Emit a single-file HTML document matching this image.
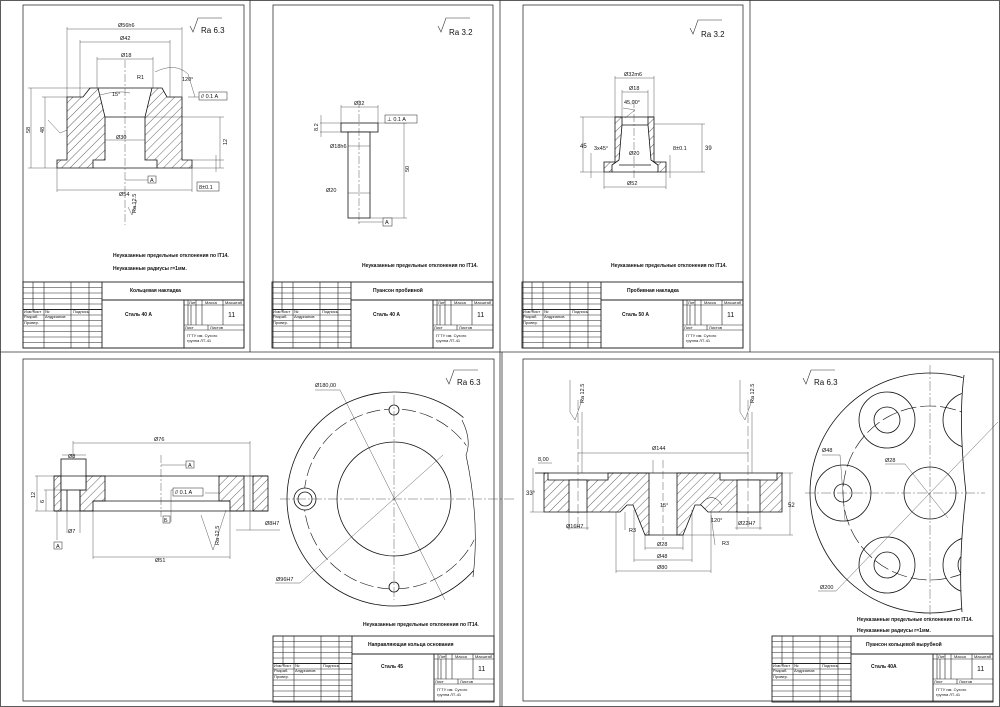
<!DOCTYPE html>
<html><head><meta charset="utf-8"><style>
html,body{margin:0;padding:0;background:#fff}
svg{display:block}
text{font-family:"Liberation Sans",sans-serif;fill:#111}
.t{font-size:4px}
.n{font-size:5px;font-weight:bold}
.d{font-size:5.5px}
</style></head><body>
<svg width="1000" height="707" viewBox="0 0 1000 707" xmlns="http://www.w3.org/2000/svg">
<defs>
<pattern id="h" patternUnits="userSpaceOnUse" width="6" height="6" patternTransform="rotate(45)">
<rect width="6" height="6" fill="#fff"/><line x1="0" y1="0" x2="0" y2="6" stroke="#222" stroke-width="0.7"/>
</pattern>
<g id="tb" fill="none" stroke="#222" stroke-width="0.6">
<rect x="0" y="0" width="221" height="66" stroke-width="0.9"/>
<line x1="79" y1="0" x2="79" y2="66" stroke-width="0.9"/>
<line x1="79" y1="18" x2="221" y2="18" stroke-width="0.9"/>
<line x1="10" y1="0" x2="10" y2="30"/><line x1="21" y1="0" x2="21" y2="66"/>
<line x1="48" y1="0" x2="48" y2="66"/><line x1="66" y1="0" x2="66" y2="66"/>
<line x1="0" y1="5.5" x2="79" y2="5.5"/><line x1="0" y1="11" x2="79" y2="11"/>
<line x1="0" y1="16.5" x2="79" y2="16.5"/><line x1="0" y1="22" x2="79" y2="22"/>
<line x1="0" y1="27.5" x2="79" y2="27.5" stroke-width="0.9"/><line x1="0" y1="33" x2="79" y2="33"/>
<line x1="0" y1="38.5" x2="79" y2="38.5"/><line x1="0" y1="44" x2="79" y2="44"/>
<line x1="0" y1="49.5" x2="79" y2="49.5"/><line x1="0" y1="55" x2="79" y2="55"/>
<line x1="0" y1="60.5" x2="79" y2="60.5"/>
<line x1="161" y1="18" x2="161" y2="66" stroke-width="0.9"/>
<line x1="161" y1="23" x2="221" y2="23"/>
<line x1="161" y1="43" x2="221" y2="43"/><line x1="161" y1="48" x2="221" y2="48"/>
<line x1="165" y1="18" x2="165" y2="43"/><line x1="168" y1="23" x2="168" y2="43"/>
<line x1="173" y1="18" x2="173" y2="43"/><line x1="179" y1="18" x2="179" y2="43"/>
<line x1="200" y1="18" x2="200" y2="43"/><line x1="185" y1="43" x2="185" y2="48"/>
</g>
<g id="tbt">
<text class="t" x="1" y="31">Изм Лист</text><text class="t" x="22" y="31">№</text><text class="t" x="50" y="31">Подпись</text>
<text class="t" x="1" y="36">Разраб.</text><text class="t" x="22" y="36">Андрианов</text><text class="t" x="1" y="42">Провер.</text>
<text class="t" x="166" y="22">Лит</text><text class="t" x="182" y="22">Масса</text><text class="t" x="202" y="22">Масштаб</text>
<text class="t" x="162" y="47">Лист</text><text class="t" x="187" y="47">Листов</text>
<text class="t" x="164" y="55">ГГТУ им. Сухого</text><text class="t" x="164" y="60">группа ЛТ-41</text>
<text x="205" y="35" style="font-size:7px">11</text>
</g>
<g id="ra"><polyline points="0,8 3,14 8,0 32,0" fill="none" stroke="#333" stroke-width="0.6"/></g>
</defs>

<g fill="none" stroke="#333" stroke-width="0.8">
<rect x="0.5" y="0.5" width="999" height="706"/>
<line x1="250" y1="0" x2="250" y2="352"/><line x1="500" y1="0" x2="500" y2="352"/>
<line x1="750" y1="0" x2="750" y2="352"/>
<line x1="0" y1="352" x2="1000" y2="352"/>
<line x1="500" y1="352" x2="500" y2="707"/><line x1="502" y1="352" x2="502" y2="707"/>
<rect x="23" y="5" width="221" height="343"/>
<rect x="273" y="5" width="220" height="343"/>
<rect x="523" y="5" width="220" height="343"/>
<rect x="23" y="359" width="471" height="342"/>
<rect x="523" y="359" width="470" height="342"/>
</g>

<use href="#tb" x="23" y="282"/><use href="#tbt" x="23" y="282"/>
<text class="n" x="130" y="292">Кольцевая накладка</text><text class="n" x="125" y="316">Сталь 40 А</text>
<use href="#tb" x="272" y="282"/><use href="#tbt" x="272" y="282"/>
<text class="n" x="373" y="292">Пуансон пробивной</text><text class="n" x="373" y="316">Сталь 40 А</text>
<use href="#tb" x="522" y="282"/><use href="#tbt" x="522" y="282"/>
<text class="n" x="627" y="292">Пробивная накладка</text><text class="n" x="622" y="316">Сталь 50 А</text>
<use href="#tb" x="273" y="636"/><use href="#tbt" x="273" y="636"/>
<text class="n" x="368" y="646">Направляющая кольца основания</text><text class="n" x="381" y="668">Сталь 45</text>
<use href="#tb" x="772" y="636"/><use href="#tbt" x="772" y="636"/>
<text class="n" x="866" y="646">Пуансон кольцевой вырубной</text><text class="n" x="871" y="668">Сталь 40А</text>

<text class="n" x="113" y="257">Неуказанные предельные отклонения по IT14.</text>
<text class="n" x="113" y="270">Неуказанные радиусы r=1мм.</text>
<text class="n" x="362" y="267">Неуказанные предельные отклонения по IT14.</text>
<text class="n" x="611" y="267">Неуказанные предельные отклонения по IT14.</text>
<text class="n" x="363" y="626">Неуказанные предельные отклонения по IT14.</text>
<text class="n" x="857" y="621">Неуказанные предельные отклонения по IT14.</text>
<text class="n" x="857" y="632">Неуказанные радиусы r=1мм.</text>

<use href="#ra" x="190" y="18"/><text x="201" y="33" style="font-size:8px">Ra 6.3</text>
<use href="#ra" x="438" y="18"/><text x="449" y="35" style="font-size:8px">Ra 3.2</text>
<use href="#ra" x="690" y="20"/><text x="701" y="37" style="font-size:8px">Ra 3.2</text>
<use href="#ra" x="446" y="370"/><text x="457" y="385" style="font-size:8px">Ra 6.3</text>
<use href="#ra" x="803" y="370"/><text x="814" y="385" style="font-size:8px">Ra 6.3</text>

<!-- SHEET 1 -->
<g stroke="#111" stroke-width="0.8">
<polygon fill="url(#h)" points="67,97 83,97 90,88 98,88 105,117 105,160 93,160 93,168 57,168 57,160 67,160"/>
<polygon fill="url(#h)" points="182,97 167,97 162,88 152,88 145,117 145,160 157,160 157,168 192,168 192,160 182,160"/>
<line x1="98" y1="88" x2="152" y2="88"/><line x1="105" y1="117" x2="145" y2="117"/><line x1="93" y1="168" x2="157" y2="168"/>
</g>
<g stroke="#333" stroke-width="0.4" fill="none">
<line x1="125" y1="60" x2="125" y2="225" stroke-dasharray="8,2,2,2"/>
<line x1="67" y1="29" x2="182" y2="29"/><line x1="67" y1="27" x2="67" y2="97"/><line x1="182" y1="27" x2="182" y2="97"/>
<line x1="80" y1="42" x2="170" y2="42"/><line x1="80" y1="40" x2="80" y2="97"/><line x1="170" y1="40" x2="170" y2="97"/>
<line x1="97" y1="59" x2="153" y2="59"/><line x1="97" y1="57" x2="97" y2="88"/><line x1="153" y1="57" x2="153" y2="88"/>
<line x1="105" y1="140" x2="145" y2="140"/>
<line x1="57" y1="190" x2="192" y2="190"/><line x1="57" y1="168" x2="57" y2="192"/><line x1="192" y1="168" x2="192" y2="192"/>
<line x1="31" y1="88" x2="31" y2="168"/><line x1="28" y1="88" x2="90" y2="88"/><line x1="28" y1="168" x2="57" y2="168"/>
<line x1="45" y1="97" x2="45" y2="168"/><line x1="42" y1="97" x2="67" y2="97"/>
<line x1="220" y1="117" x2="220" y2="168"/><line x1="145" y1="117" x2="224" y2="117"/><line x1="192" y1="168" x2="224" y2="168"/>
<line x1="192" y1="160" x2="224" y2="160"/><line x1="216" y1="155" x2="216" y2="172"/>
<path d="M155,72 Q175,62 188,74 L195,97"/><line x1="188" y1="97" x2="200" y2="97"/>
<path d="M100,95 Q118,90 130,93"/>
<line x1="125" y1="180" x2="148" y2="180"/>
<polyline points="48,120 60,133 67,130"/>
<polyline points="128,207 132,215 137,200"/>
</g>
<text class="d" x="118" y="27">Ø56h6</text><text class="d" x="120" y="40">Ø42</text><text class="d" x="121" y="57">Ø18</text>
<text class="d" x="116" y="139">Ø30</text><text class="d" x="119" y="196">Ø54</text><text class="d" x="182" y="81">120°</text>
<text class="d" x="112" y="96">15°</text><text class="d" x="137" y="79">R1</text>
<text class="d" transform="translate(30,133) rotate(-90)">58</text><text class="d" transform="translate(44,133) rotate(-90)">48</text>
<text class="d" transform="translate(227,145) rotate(-90)">12</text>
<text class="d" transform="translate(136,213) rotate(-90)">Ra 12.5</text>
<g fill="#fff" stroke="#222" stroke-width="0.5"><rect x="199" y="92" width="28" height="8"/><rect x="148" y="176" width="8" height="7"/><rect x="197" y="182" width="22" height="9"/></g>
<text class="d" x="201" y="98">// 0.1  A</text><text class="d" x="150" y="182">A</text><text class="d" x="199" y="189">8±0.1</text>

<!-- SHEET 2 -->
<g stroke="#111" stroke-width="0.8" fill="#fff">
<rect x="341" y="123" width="37" height="9"/><rect x="348" y="132" width="22" height="86"/>
</g>
<g stroke="#333" stroke-width="0.4" fill="none">
<line x1="359" y1="100" x2="359" y2="225" stroke-dasharray="8,2,2,2"/>
<line x1="341" y1="107" x2="378" y2="107"/><line x1="341" y1="105" x2="341" y2="123"/><line x1="378" y1="105" x2="378" y2="123"/>
<line x1="404" y1="123" x2="404" y2="218"/><line x1="378" y1="123" x2="407" y2="123"/><line x1="370" y1="218" x2="407" y2="218"/>
<line x1="320" y1="123" x2="341" y2="123"/><line x1="320" y1="132" x2="348" y2="132"/><line x1="321" y1="115" x2="321" y2="137"/>
<line x1="348" y1="146" x2="370" y2="146"/><line x1="348" y1="193" x2="370" y2="193"/>
<line x1="358" y1="222" x2="383" y2="222"/>
</g>
<g fill="#fff" stroke="#222" stroke-width="0.5"><rect x="385" y="115" width="32" height="8"/><rect x="383" y="218" width="9" height="8"/></g>
<text class="d" x="387" y="121">⊥ 0.1  A</text><text class="d" x="385" y="224">A</text>
<text class="d" x="354" y="105">Ø32</text><text class="d" x="330" y="148">Ø18h6</text><text class="d" x="326" y="192">Ø20</text>
<text class="d" transform="translate(409,172) rotate(-90)">50</text><text class="d" transform="translate(318,131) rotate(-90)">8.2</text>

<!-- SHEET 3 -->
<g stroke="#111" stroke-width="0.8">
<polygon fill="url(#h)" points="615,117 622,117 622,125 619,160 612,165 612,172 604,172 604,162 615,162"/>
<polygon fill="url(#h)" points="654,117 648,117 648,125 651,160 658,165 658,172 666,172 666,162 654,162"/>
<line x1="622" y1="125" x2="648" y2="125"/><line x1="619" y1="165" x2="651" y2="165"/><line x1="612" y1="172" x2="658" y2="172"/>
<line x1="615" y1="117" x2="654" y2="117"/>
</g>
<g stroke="#333" stroke-width="0.4" fill="none">
<line x1="634" y1="100" x2="634" y2="180" stroke-dasharray="8,2,2,2"/>
<line x1="615" y1="78" x2="654" y2="78"/><line x1="615" y1="76" x2="615" y2="117"/><line x1="654" y1="76" x2="654" y2="117"/>
<line x1="622" y1="92" x2="648" y2="92"/><line x1="622" y1="90" x2="622" y2="117"/><line x1="648" y1="90" x2="648" y2="117"/>
<line x1="583" y1="117" x2="583" y2="172"/><line x1="580" y1="117" x2="615" y2="117"/><line x1="580" y1="172" x2="604" y2="172"/>
<line x1="702" y1="124" x2="702" y2="172"/><line x1="654" y1="124" x2="705" y2="124"/><line x1="666" y1="172" x2="705" y2="172"/>
<line x1="604" y1="187" x2="666" y2="187"/><line x1="604" y1="172" x2="604" y2="189"/><line x1="666" y1="172" x2="666" y2="189"/>
<line x1="591" y1="153" x2="591" y2="178"/><line x1="670" y1="155" x2="670" y2="178"/>
<path d="M623,108 L635,110 L625,118"/>
</g>
<text class="d" x="624" y="76">Ø32m6</text><text class="d" x="629" y="90">Ø18</text><text class="d" x="624" y="104">45,00°</text>
<text class="d" x="629" y="155">Ø20</text><text class="d" x="627" y="185">Ø52</text>
<text x="580" y="148" style="font-size:6px">45</text><text x="705" y="150" style="font-size:6px">39</text>
<text class="d" x="594" y="150">3x45°</text><text class="d" x="673" y="150">8±0.1</text>

<!-- SHEET 4 -->
<g stroke="#111" stroke-width="0.8">
<rect x="54" y="476" width="7" height="35" fill="url(#h)"/>
<polygon fill="url(#h)" points="80,490 86,490 86,476 105,476 105,501 93,501 93,511 80,511"/>
<polygon fill="url(#h)" points="219,476 244,476 244,511 230,511 230,501 219,501"/>
<rect x="253" y="476" width="15" height="35" fill="url(#h)"/>
<rect x="61" y="459" width="25" height="31" fill="#fff"/>
<line x1="54" y1="476" x2="268" y2="476"/><line x1="54" y1="511" x2="268" y2="511"/>
<line x1="67" y1="490" x2="67" y2="511"/><line x1="80" y1="490" x2="80" y2="511"/>
<line x1="93" y1="501" x2="230" y2="501"/>
</g>
<g stroke="#333" stroke-width="0.4" fill="none">
<line x1="161" y1="455" x2="161" y2="517" stroke-dasharray="8,2,2,2"/>
<line x1="73" y1="443" x2="250" y2="443"/><line x1="73" y1="441" x2="73" y2="459"/><line x1="250" y1="441" x2="250" y2="530"/>
<line x1="93" y1="557" x2="230" y2="557"/><line x1="93" y1="511" x2="93" y2="559"/><line x1="230" y1="511" x2="230" y2="559"/>
<line x1="35" y1="476" x2="54" y2="476"/><line x1="35" y1="511" x2="54" y2="511"/><line x1="37" y1="476" x2="37" y2="511"/>
<line x1="44" y1="490" x2="61" y2="490"/><line x1="46" y1="490" x2="46" y2="511"/>
<line x1="62" y1="455" x2="86" y2="455"/><line x1="67" y1="511" x2="67" y2="533"/><line x1="80" y1="511" x2="80" y2="533"/>
<line x1="57" y1="511" x2="57" y2="540"/>
<line x1="161" y1="465" x2="186" y2="465"/>
<line x1="171" y1="490" x2="171" y2="522"/><line x1="171" y1="490" x2="190" y2="490"/>
<line x1="205" y1="493" x2="219" y2="493"/>
<line x1="236" y1="530" x2="280" y2="530"/>
<polyline points="201,515 213,550 226,510"/>
</g>
<g fill="#fff" stroke="#222" stroke-width="0.5"><rect x="186" y="461" width="8" height="7"/><rect x="173" y="488" width="30" height="8"/><rect x="54" y="542" width="8" height="7"/><rect x="163" y="516" width="7" height="7"/></g>
<text class="d" x="188" y="467">A</text><text class="d" x="175" y="494">// 0.1  A</text><text class="d" x="56" y="548">A</text><text class="d" x="164" y="522">Б</text>
<text class="d" x="154" y="441">Ø76</text><text class="d" x="68" y="458">Ø8</text><text class="d" x="68" y="533">Ø7</text>
<text class="d" x="155" y="562">Ø51</text><text class="d" x="265" y="525">Ø8H7</text>
<text class="d" transform="translate(35,498) rotate(-90)">12</text><text class="d" transform="translate(44,503) rotate(-90)">6</text>
<text class="d" transform="translate(219,545) rotate(-90)">Ra 12.5</text>
<defs><clipPath id="c4"><path d="M280,350 L462,350 Q468,410 462,422 Q478,500 473,577 L473,707 L280,707 Z"/></clipPath></defs>
<g clip-path="url(#c4)" fill="none" stroke="#111" stroke-width="0.8">
<circle cx="394" cy="499" r="107"/>
<circle cx="394" cy="499" r="90" stroke-dasharray="14,4" stroke-width="0.6"/>
</g>
<g fill="none" stroke="#111" stroke-width="0.8">
<path d="M462,420 Q472,440 466,455 Q480,520 473,577" stroke-width="0.6"/>
<circle cx="394" cy="499" r="57"/>
<circle cx="394" cy="410" r="5" fill="#fff"/><circle cx="394" cy="587" r="5" fill="#fff"/>
<circle cx="305" cy="499" r="11" fill="#fff"/><circle cx="305" cy="499" r="7"/>
</g>
<g stroke="#333" stroke-width="0.4">
<line x1="280" y1="499" x2="515" y2="499" stroke-dasharray="10,2,2,2"/>
<line x1="394" y1="395" x2="394" y2="600" stroke-dasharray="10,2,2,2"/>
<line x1="315" y1="390" x2="340" y2="390"/><line x1="340" y1="390" x2="445" y2="600"/>
<line x1="275" y1="583" x2="300" y2="583"/><line x1="300" y1="583" x2="443" y2="455"/>
</g>
<text class="d" x="315" y="387">Ø180,00</text><text class="d" x="276" y="581">Ø96H7</text>

<!-- SHEET 5 -->
<g stroke="#111" stroke-width="0.8">
<polygon fill="url(#h)" points="544,473 548,473 548,480 608,480 608,473 649,473 649,535 645,535 633,505 627,505 620,512 544,512"/>
<polygon fill="url(#h)" points="782,473 777,473 777,480 720,480 720,473 677,473 677,535 683,535 695,505 701,505 708,512 782,512"/>
<rect x="569" y="480" width="18" height="32" fill="#fff"/><rect x="737" y="480" width="23" height="32" fill="#fff"/>
<line x1="535" y1="473" x2="783" y2="473"/><line x1="645" y1="535" x2="683" y2="535"/>
<path d="M700,505 Q712,490 722,505" fill="none" stroke-width="0.5"/>
</g>
<g stroke="#333" stroke-width="0.4" fill="none">
<line x1="663" y1="460" x2="663" y2="540" stroke-dasharray="8,3"/>
<line x1="578" y1="400" x2="578" y2="530" stroke-dasharray="10,3"/><line x1="748" y1="400" x2="748" y2="530" stroke-dasharray="10,3"/>
<line x1="578" y1="453" x2="748" y2="453"/>
<line x1="569" y1="512" x2="569" y2="530"/><line x1="587" y1="512" x2="587" y2="530"/><line x1="567" y1="528" x2="589" y2="528"/>
<line x1="737" y1="512" x2="737" y2="530"/><line x1="760" y1="512" x2="760" y2="530"/><line x1="735" y1="528" x2="762" y2="528"/>
<line x1="533" y1="468" x2="533" y2="512"/><line x1="530" y1="512" x2="544" y2="512"/>
<line x1="538" y1="463" x2="552" y2="463"/>
<line x1="790" y1="473" x2="790" y2="535"/><line x1="783" y1="473" x2="793" y2="473"/><line x1="683" y1="535" x2="793" y2="535"/>
<line x1="645" y1="548" x2="683" y2="548"/><line x1="645" y1="535" x2="645" y2="550"/><line x1="683" y1="535" x2="683" y2="550"/>
<line x1="634" y1="560" x2="692" y2="560"/><line x1="634" y1="510" x2="634" y2="562"/><line x1="692" y1="510" x2="692" y2="562"/>
<line x1="616" y1="571" x2="711" y2="571"/><line x1="616" y1="512" x2="616" y2="573"/><line x1="711" y1="512" x2="711" y2="573"/>
<line x1="625" y1="512" x2="625" y2="530"/><line x1="711" y1="515" x2="715" y2="545"/>
<line x1="653" y1="460" x2="653" y2="473"/>
<polyline points="570,380 570,412 575,420 582,400"/><polyline points="740,380 740,412 745,420 752,400"/>
<line x1="582" y1="412" x2="582" y2="473"/><line x1="752" y1="412" x2="752" y2="473"/>
</g>
<text class="d" x="652" y="450">Ø144</text><text class="d" x="538" y="461">8,00</text>
<text x="526" y="495" style="font-size:6px">33°</text><text x="788" y="507" style="font-size:6px">52</text>
<text class="d" x="566" y="528">Ø16H7</text><text class="d" x="738" y="525">Ø22H7</text>
<text class="d" x="660" y="507">15°</text><text class="d" x="711" y="522">120°</text>
<text class="d" x="629" y="532">R3</text><text class="d" x="722" y="545">R3</text>
<text class="d" x="657" y="546">Ø28</text><text class="d" x="657" y="558">Ø48</text><text class="d" x="657" y="569">Ø80</text>
<text class="d" transform="translate(584,403) rotate(-90)">Ra 12.5</text><text class="d" transform="translate(754,403) rotate(-90)">Ra 12.5</text>
<defs><clipPath id="c5"><path d="M800,360 L964,360 Q958,420 966,493 Q958,560 962,620 L800,620 Z"/></clipPath></defs>
<g clip-path="url(#c5)" fill="none" stroke="#111" stroke-width="0.8">
<circle cx="930" cy="493" r="120"/>
<circle cx="930" cy="493" r="87" stroke-dasharray="16,4" stroke-width="0.6"/>
<circle cx="843" cy="493" r="28"/><circle cx="843" cy="493" r="9"/>
<circle cx="887" cy="420" r="28"/><circle cx="887" cy="420" r="13"/>
<circle cx="887" cy="565" r="28"/><circle cx="887" cy="565" r="13"/>
<circle cx="971" cy="420" r="28"/><circle cx="971" cy="565" r="28"/><circle cx="971" cy="565" r="13"/>
<circle cx="930" cy="493" r="26"/>
</g>
<g fill="none" stroke="#111" stroke-width="0.8">
<path d="M964,375 Q958,420 966,493 Q958,560 962,612"/>
</g>
<g stroke="#333" stroke-width="0.4">
<line x1="805" y1="493" x2="985" y2="493" stroke-dasharray="10,2,2,2"/>
<line x1="930" y1="365" x2="930" y2="620" stroke-dasharray="10,2,2,2"/>
<line x1="818" y1="591" x2="836" y2="591"/><line x1="836" y1="591" x2="998" y2="422"/>
<line x1="885" y1="464" x2="905" y2="464"/><line x1="905" y1="464" x2="948" y2="518"/>
<line x1="822" y1="455" x2="840" y2="455"/><line x1="840" y1="455" x2="845" y2="520"/>
</g>
<text class="d" x="820" y="589">Ø200</text><text class="d" x="885" y="462">Ø28</text><text class="d" x="822" y="452">Ø48</text>
</svg>
</body></html>
